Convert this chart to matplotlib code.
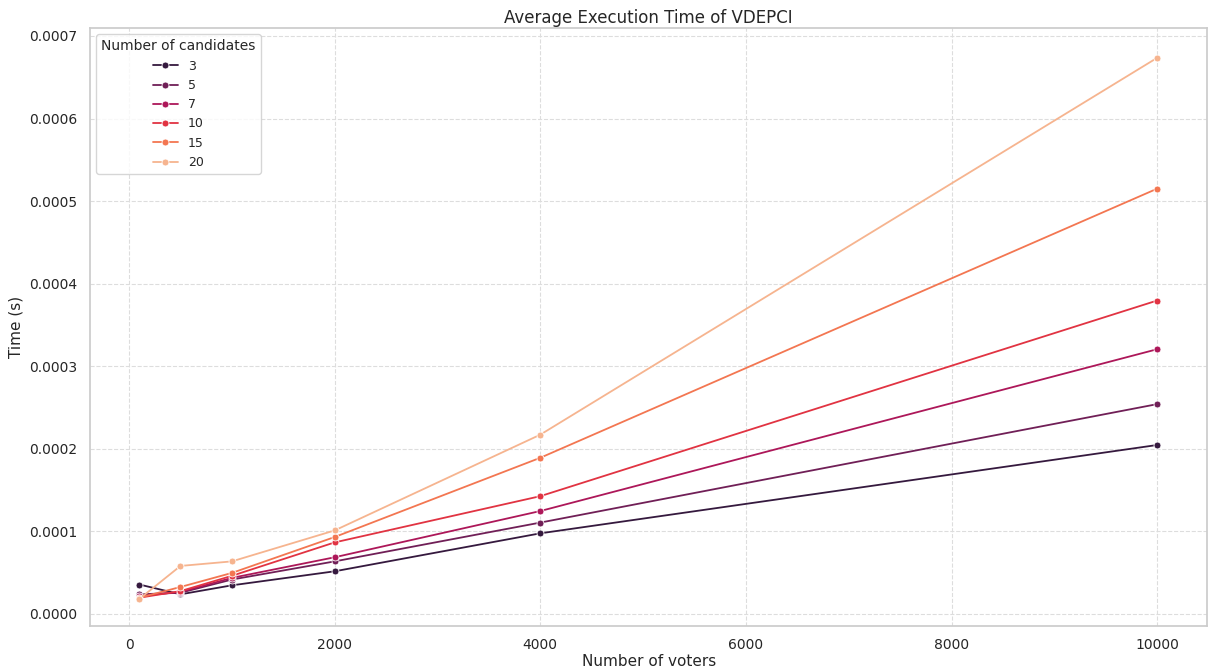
import matplotlib
matplotlib.use("Agg")
import matplotlib.pyplot as plt
import seaborn as sns

voters = [100, 500, 1000, 2000, 4000, 10000]
candidates = [3, 5, 7, 10, 15, 20]
times = {
    3:  [0.0000355, 0.0000236, 0.0000345, 0.0000515, 0.0000975, 0.0002045],
    5:  [0.0000236, 0.0000255, 0.0000415, 0.0000635, 0.0001105, 0.0002540],
    7:  [0.0000215, 0.0000265, 0.0000435, 0.0000685, 0.0001245, 0.0003205],
    10: [0.0000195, 0.0000275, 0.0000460, 0.0000865, 0.0001425, 0.0003795],
    15: [0.0000195, 0.0000325, 0.0000495, 0.0000930, 0.0001890, 0.0005150],
    20: [0.0000180, 0.0000580, 0.0000635, 0.0001010, 0.0002170, 0.0006735],
}

sns.set_theme(style="whitegrid")
plt.rcParams['font.family'] = ['DejaVu Sans']
colors = sns.color_palette("rocket", len(candidates))

fig, ax = plt.subplots(figsize=(12.16, 6.70), dpi=100)
for c, col in zip(candidates, colors):
    ax.plot(voters, times[c], marker='o', color=col, label=str(c),
            linewidth=1.3, markersize=5, markeredgecolor='white', markeredgewidth=0.6)

ax.set_title("Average Execution Time of VDEPCI", fontsize=12, pad=4)
ax.set_xlabel("Number of voters", fontsize=11, labelpad=1)
ax.set_ylabel("Time (s)", fontsize=11, labelpad=4)
ax.tick_params(labelsize=10, pad=3)
ax.grid(True, linestyle='--', color='#dddddd', linewidth=0.8)
ax.set_xticks([0, 2000, 4000, 6000, 8000, 10000])
ax.set_yticks([0, 0.0001, 0.0002, 0.0003, 0.0004, 0.0005, 0.0006, 0.0007])
ax.set_yticklabels([f"{v:.4f}" for v in ax.get_yticks()])
ax.set_ylim(-0.0000145, 0.0007095)
ax.set_xlim(-380, 10490)
for s in ax.spines.values():
    s.set_color('#cccccc')
leg = ax.legend(title="Number of candidates", loc='upper left', fontsize=9, title_fontsize=10)
fig.subplots_adjust(left=0.074, right=0.993, top=0.958, bottom=0.066)
fig.savefig("out.png", dpi=100)
